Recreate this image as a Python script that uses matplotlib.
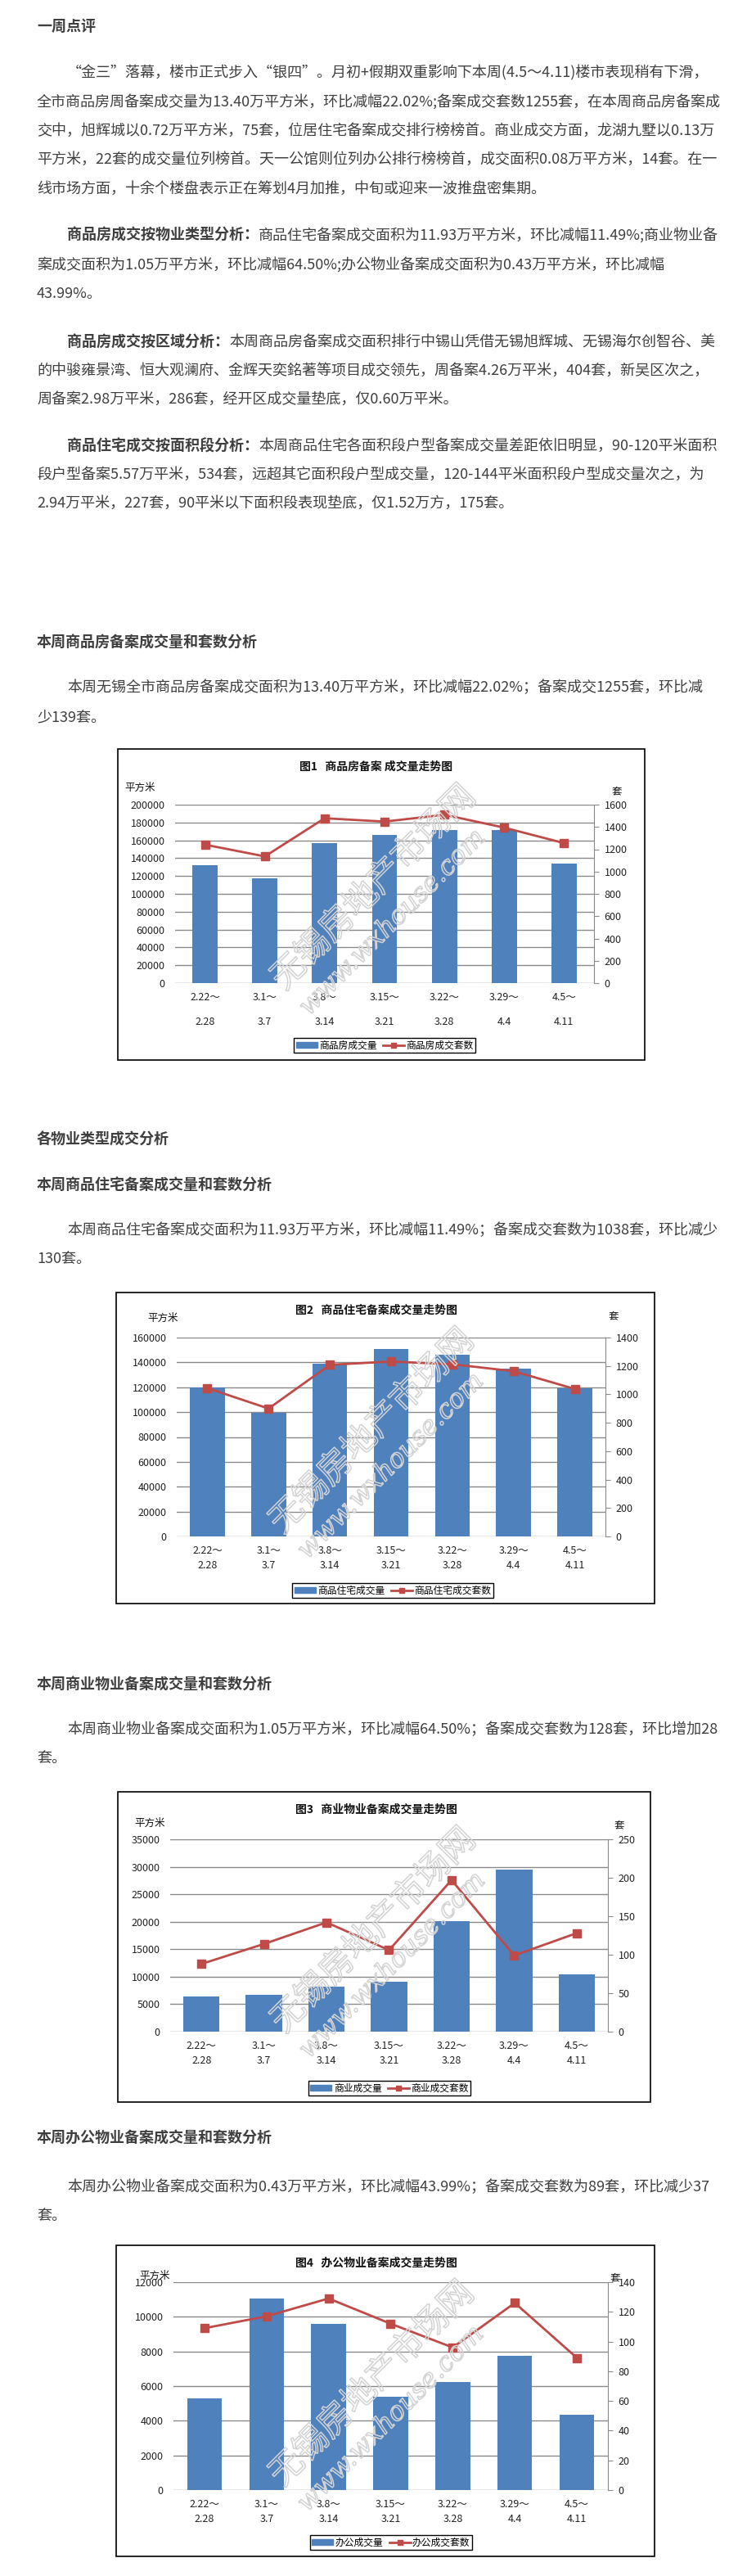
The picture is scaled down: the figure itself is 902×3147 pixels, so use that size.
import matplotlib.pyplot as plt
import matplotlib.patheffects as pe
from matplotlib.patches import Rectangle, Patch
from matplotlib.lines import Line2D
import numpy as np

plt.rcParams['font.family'] = ['Noto Sans CJK SC', 'DejaVu Sans']

W, H = 903, 3147

# Semanas (eje x de los cuatro gráficos)
week_start = ['2.22～', '3.1～', '3.8～', '3.15～', '3.22～', '3.29～', '4.5～']
week_end = ['2.28', '3.7', '3.14', '3.21', '3.28', '4.4', '4.11']

# 图1 商品房
house_area = [131900, 117200, 156600, 165800, 171900, 171900, 134000]
house_units = [1241, 1136, 1478, 1448, 1509, 1394, 1255]
# 图2 商品住宅
resi_area = [119800, 99300, 138700, 150500, 146200, 135000, 119300]
resi_units = [1044, 900, 1208, 1231, 1212, 1163, 1038]
# 图3 商业
comm_area = [6450, 6750, 8250, 9150, 20100, 29550, 10500]
comm_units = [88, 114, 142, 106, 197, 99, 128]
# 图4 办公
office_area = [5280, 11050, 9590, 5370, 6220, 7750, 4330]
office_units = [109, 117, 129, 112, 96, 126, 89]

AZUL = '#4F81BD'
ROJO = '#BE4B48'
GRIS = '#8a8a8a'
TXT = '#3f3f3f'
FS = 13

fig = plt.figure(figsize=(W / 100, H / 100), dpi=100)
fig.patch.set_facecolor('white')

# capa de página en píxeles
pg = fig.add_axes([0, 0, 1, 1])
pg.set_xlim(0, W)
pg.set_ylim(H, 0)
pg.axis('off')


def renglon(x, y, s, bold=False):
    return pg.text(x, y, s, fontsize=FS, color=TXT, va='center', ha='left',
                   fontweight='bold' if bold else 'normal')


def renglon_mixto(x, y, negrita, resto):
    t = renglon(x, y, negrita, bold=True)
    pg.annotate(resto, xy=(1, 0.5), xycoords=t, va='center', ha='left',
                fontsize=FS, color=TXT)


# ---- texto del artículo ----
renglon(45, 32, '一周点评', bold=True)
renglon(82, 89, '“金三”落幕，楼市正式步入“银四”。月初+假期双重影响下本周(4.5～4.11)楼市表现稍有下滑，')
renglon(45, 124, '全市商品房周备案成交量为13.40万平方米，环比减幅22.02%;备案成交套数1255套，在本周商品房备案成')
renglon(45, 160, '交中，旭辉城以0.72万平方米，75套，位居住宅备案成交排行榜榜首。商业成交方面，龙湖九墅以0.13万')
renglon(45, 195, '平方米，22套的成交量位列榜首。天一公馆则位列办公排行榜榜首，成交面积0.08万平方米，14套。在一')
renglon(45, 231, '线市场方面，十余个楼盘表示正在筹划4月加推，中旬或迎来一波推盘密集期。')

renglon_mixto(82, 287, '商品房成交按物业类型分析：', '商品住宅备案成交面积为11.93万平方米，环比减幅11.49%;商业物业备')
renglon(45, 323, '案成交面积为1.05万平方米，环比减幅64.50%;办公物业备案成交面积为0.43万平方米，环比减幅')
renglon(45, 359, '43.99%。')

renglon_mixto(82, 418, '商品房成交按区域分析：', '本周商品房备案成交面积排行中锡山凭借无锡旭辉城、无锡海尔创智谷、美')
renglon(45, 453, '的中骏雍景湾、恒大观澜府、金辉天奕銘著等项目成交领先，周备案4.26万平米，404套，新吴区次之，')
renglon(45, 488, '周备案2.98万平米，286套，经开区成交量垫底，仅0.60万平米。')

renglon_mixto(82, 545, '商品住宅成交按面积段分析：', '本周商品住宅各面积段户型备案成交量差距依旧明显，90-120平米面积')
renglon(45, 580, '段户型备案5.57万平米，534套，远超其它面积段户型成交量，120-144平米面积段户型成交量次之，为')
renglon(45, 615, '2.94万平米，227套，90平米以下面积段表现垫底，仅1.52万方，175套。')

renglon(45, 785, '本周商品房备案成交量和套数分析', bold=True)
renglon(82, 840, '本周无锡全市商品房备案成交面积为13.40万平方米，环比减幅22.02%；备案成交1255套，环比减')
renglon(45, 877, '少139套。')

renglon(45, 1392, '各物业类型成交分析', bold=True)
renglon(45, 1448, '本周商品住宅备案成交量和套数分析', bold=True)
renglon(82, 1503, '本周商品住宅备案成交面积为11.93万平方米，环比减幅11.49%；备案成交套数为1038套，环比减少')
renglon(45, 1538, '130套。')

renglon(45, 2058, '本周商业物业备案成交量和套数分析', bold=True)
renglon(82, 2113, '本周商业物业备案成交面积为1.05万平方米，环比减幅64.50%；备案成交套数为128套，环比增加28')
renglon(45, 2148, '套。')

renglon(45, 2612, '本周办公物业备案成交量和套数分析', bold=True)
renglon(82, 2672, '本周办公物业备案成交面积为0.43万平方米，环比减幅43.99%；备案成交套数为89套，环比减少37')
renglon(45, 2707, '套。')


def grafico(marco, zona, area, units, lim_izq, paso_izq, lim_der, paso_der,
            titulo, pos_m2, pos_tao, pos_ley, nombres, ancho, interlineado):
    x0, y0, x1, y1 = marco
    pg.add_patch(Rectangle((x0, y0), x1 - x0, y1 - y0, fill=False, ec='black', lw=1.2))
    pg.text(460, y0 + 22, titulo, fontsize=10, fontweight='bold', color='#111',
            ha='center', va='center')
    pg.text(pos_m2[0], pos_m2[1], '平方米', fontsize=9, color='#111', ha='center', va='center')
    pg.text(pos_tao[0], pos_tao[1], '套', fontsize=9, color='#111', ha='center', va='center')

    px0, py0, px1, py1 = zona
    ax = fig.add_axes([px0 / W, 1 - py1 / H, (px1 - px0) / W, (py1 - py0) / H])
    ax.set_facecolor('none')
    x = np.arange(len(area))
    ax.bar(x, area, width=ancho, color=AZUL, zorder=2)
    ax.set_xlim(-0.5, len(area) - 0.5)
    ax.set_ylim(0, lim_izq)
    ax.set_yticks(np.arange(0, lim_izq + 1, paso_izq))
    ax.grid(axis='y', color=GRIS, lw=1)
    ax.set_axisbelow(True)
    for s in ax.spines.values():
        s.set_visible(False)
    ax.tick_params(axis='y', length=0, pad=9, labelsize=9, labelcolor='#222')
    ax.set_xticks(x, [a + '\n' + b for a, b in zip(week_start, week_end)])
    ax.tick_params(axis='x', length=0, pad=8, labelsize=9, labelcolor='#222')
    for lab in ax.get_xticklabels():
        lab.set_linespacing(interlineado)

    ax2 = ax.twinx()
    ax2.plot(x, units, color=ROJO, lw=2, marker='s', ms=7, zorder=3)
    ax2.set_ylim(0, lim_der)
    ax2.set_yticks(np.arange(0, lim_der + 1, paso_der))
    for k in ('top', 'left', 'bottom'):
        ax2.spines[k].set_visible(False)
    ax2.spines['right'].set_color(GRIS)
    ax2.tick_params(axis='y', length=4, color=GRIS, pad=5, labelsize=9, labelcolor='#222')

    # marca de agua
    ax2.text(x0 + 313, y0 + 170, '无锡房地产市场网', transform=pg.transData, rotation=45,
             fontsize=30, color='none', ha='center', va='center', zorder=6, clip_on=False,
             path_effects=[pe.Stroke(linewidth=1.1, foreground='#d3d3d3')])
    ax2.text(x0 + 336, y0 + 212, 'www.wxhouse.com', transform=pg.transData, rotation=45,
             fontsize=23, color='none', ha='center', va='center', zorder=6, clip_on=False,
             family='DejaVu Serif', style='italic',
             path_effects=[pe.Stroke(linewidth=1.1, foreground='#d3d3d3')])

    h = [Patch(color=AZUL), Line2D([], [], color=ROJO, lw=2, marker='s', ms=5)]
    ley = ax2.legend(h, nombres, loc='center', bbox_to_anchor=pos_ley,
                     bbox_transform=pg.transData, ncol=2, fontsize=8.5,
                     frameon=True, fancybox=False, edgecolor='black', framealpha=1,
                     borderpad=0.25, handlelength=2.2, handletextpad=0.2,
                     columnspacing=0.6, handleheight=0.6)
    ley.get_frame().set_linewidth(1)
    return ax, ax2


grafico((144, 915, 788, 1295), (214, 983, 726, 1201), house_area, house_units,
        200000, 20000, 1600, 200, '图1   商品房备案 成交量走势图',
        (171, 962), (754, 967), (470, 1277), ['商品房成交量', '商品房成交套数'], 0.42, 2.7)

grafico((142, 1579, 800, 1959), (216, 1634, 740, 1877), resi_area, resi_units,
        160000, 20000, 1400, 200, '图2   商品住宅备案成交量走势图',
        (199, 1610), (750, 1608), (480, 1943), ['商品住宅成交量', '商品住宅成交套数'], 0.57, 1.5)

grafico((144, 2189, 795, 2568), (208, 2247, 743, 2482), comm_area, comm_units,
        35000, 5000, 250, 50, '图3   商业物业备案成交量走势图',
        (183, 2227), (757, 2230), (476, 2551), ['商业成交量', '商业成交套数'], 0.58, 1.5)

grafico((142, 2743, 800, 3123), (212, 2788, 743, 3042), office_area, office_units,
        12000, 2000, 140, 20, '图4   办公物业备案成交量走势图',
        (189, 2780), (752, 2783), (478, 3106), ['办公成交量', '办公成交套数'], 0.56, 1.5)

fig.savefig('out.png', dpi=100, facecolor='white')
